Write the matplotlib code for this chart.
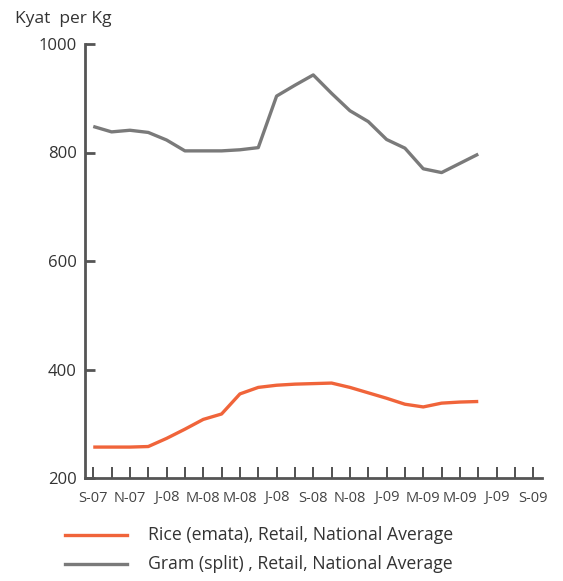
import matplotlib.pyplot as plt
import numpy as np

# Monthly retail prices, Sep 2007 - Jun 2009 (Kyat per Kg)
rice = [257, 257, 257, 258, 273, 290, 308, 318, 355, 367, 371,
        373, 374, 375, 367, 357, 347, 336, 331, 338, 340, 341]
gram = [848, 838, 841, 837, 823, 803, 803, 803, 805, 809, 904,
        924, 943, 909, 877, 857, 824, 808, 770, 763, 780, 797]
month_labels = ["S-07", "N-07", "J-08", "M-08", "M-08", "J-08", "S-08",
                "N-08", "J-09", "M-09", "M-09", "J-09", "S-09"]
n_ticks = 25  # monthly ticks Sep 07 .. Sep 09

plt.rcParams["font.family"] = ["Open Sans", "DejaVu Sans"]

fig = plt.figure(figsize=(5.63, 5.81), dpi=100)
ax = fig.add_axes([85 / 563, 1 - 478 / 581, (541.7 - 85) / 563, (478 - 44) / 581])

x = np.arange(len(rice))
ax.plot(x, gram, color="#7a7a7a", lw=2.4, solid_capstyle="butt")
ax.plot(x, rice, color="#f0643a", lw=2.4, solid_capstyle="butt")

ax.set_xlim(-0.45, 24.46)
ax.set_ylim(200, 1000)
ax.set_yticks([200, 400, 600, 800, 1000])
ax.set_xticks(np.arange(n_ticks))
ax.set_xticklabels([lab if i % 2 == 0 else "" for i, lab in
                    enumerate(np.repeat(month_labels, 2)[:n_ticks])])

for side in ("top", "right"):
    ax.spines[side].set_visible(False)
for side in ("left", "bottom"):
    ax.spines[side].set_color("#555555")
    ax.spines[side].set_linewidth(2)

ax.tick_params(axis="y", direction="in", length=7, width=2, color="#555555",
               labelsize=12, labelcolor="#333333", pad=6)
ax.tick_params(axis="x", direction="in", length=8, width=1.2, color="#333333",
               labelsize=10.5, labelcolor="#444444", pad=9)

fig.text(15 / 563, 1 - 19 / 581, "Kyat  per Kg", fontsize=12.5,
         color="#333333", va="center", ha="left")

# legend drawn below the axes
legend = [("Rice (emata), Retail, National Average", "#f0643a", 535),
          ("Gram (split) , Retail, National Average", "#7a7a7a", 564)]
for label, color, ypx in legend:
    yf = 1 - ypx / 581
    fig.add_artist(plt.Line2D([65 / 563, 127 / 563], [yf, yf], color=color, lw=2.4))
    fig.text(148 / 563, yf, label, fontsize=12.7, color="#333333", va="center", ha="left")

fig.savefig("out.png", dpi=100)
